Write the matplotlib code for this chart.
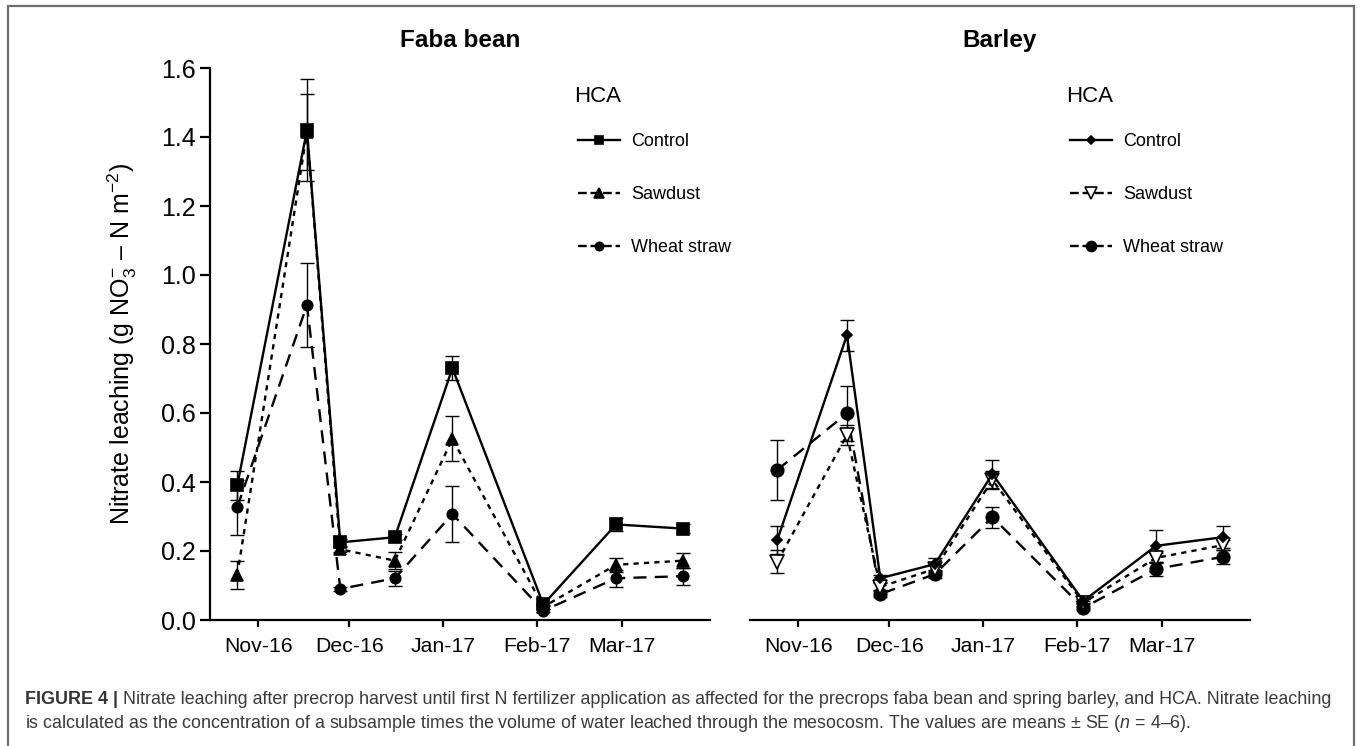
import numpy as np
import matplotlib
matplotlib.use("Agg")
import matplotlib.pyplot as plt
from matplotlib.lines import Line2D
from matplotlib.patches import Rectangle

plt.rcParams['font.family'] = ['Liberation Sans', 'DejaVu Sans']
plt.rcParams['mathtext.fontset'] = 'custom'
plt.rcParams['mathtext.rm'] = 'Liberation Sans'
plt.rcParams['mathtext.it'] = 'Liberation Sans:italic'
plt.rcParams['mathtext.bf'] = 'Liberation Sans:bold'

# ---------------- data ----------------
dates = np.array(['2016-10-25', '2016-11-17', '2016-11-28', '2016-12-16',
                  '2017-01-04', '2017-02-03', '2017-02-27', '2017-03-21'], dtype='datetime64[D]')
tick_dates = np.array(['2016-11-01', '2016-12-01', '2017-01-01', '2017-02-01', '2017-03-01'],
                      dtype='datetime64[D]')
tick_labels = ['Nov-16', 'Dec-16', 'Jan-17', 'Feb-17', 'Mar-17']
xlim_dates = np.array(['2016-10-16', '2017-03-30'], dtype='datetime64[D]')
series_names = ['Control', 'Sawdust', 'Wheat straw']

faba_control = [0.39, 1.42, 0.225, 0.24, 0.73, 0.045, 0.277, 0.265]
faba_control_se = [0.042, 0.148, 0.010, 0.008, 0.035, 0.005, 0.020, 0.014]
faba_sawdust = [0.13, 1.415, 0.205, 0.172, 0.525, 0.038, 0.16, 0.172]
faba_sawdust_se = [0.040, 0.110, 0.008, 0.025, 0.065, 0.005, 0.020, 0.022]
faba_wheat = [0.327, 0.913, 0.09, 0.121, 0.307, 0.027, 0.121, 0.127]
faba_wheat_se = [0.080, 0.123, 0.005, 0.022, 0.080, 0.004, 0.025, 0.025]

barley_control = [0.232, 0.826, 0.121, 0.162, 0.423, 0.055, 0.215, 0.240]
barley_control_se = [0.041, 0.045, 0.010, 0.018, 0.040, 0.005, 0.046, 0.032]
barley_sawdust = [0.169, 0.536, 0.096, 0.148, 0.406, 0.050, 0.180, 0.217]
barley_sawdust_se = [0.033, 0.030, 0.010, 0.010, 0.025, 0.005, 0.015, 0.015]
barley_wheat = [0.435, 0.599, 0.075, 0.133, 0.298, 0.035, 0.148, 0.183]
barley_wheat_se = [0.087, 0.080, 0.008, 0.010, 0.030, 0.005, 0.020, 0.020]

caption_bold = 'FIGURE 4 | '
caption_line1 = ('Nitrate leaching after precrop harvest until first N fertilizer application as '
                 'affected for the precrops faba bean and spring barley, and HCA. Nitrate leaching')
caption_line2 = ('is calculated as the concentration of a subsample times the volume of water leached '
                 'through the mesocosm. The values are means \u00b1 SE ($n$ = 4\u20136).')

# ---------------- figure ----------------
W, H = 1360, 746
fig = plt.figure(figsize=(W / 100, H / 100), dpi=100)
fig.patch.set_facecolor('white')

def fx(px):
    return px / W

def fy(py):
    return 1 - py / H

ax1 = fig.add_axes([fx(210), fy(620), fx(500), (620 - 68) / H])
ax2 = fig.add_axes([fx(750), fy(620), fx(500), (620 - 68) / H])

ls_control = '-'
ls_sawdust = (0, (2.2, 2.2))
ls_wheat = (0, (5.5, 3.5))

def draw(ax, vals, ses, styles):
    for v, s in zip(vals, ses):
        ax.errorbar(dates, v, yerr=s, fmt='none', ecolor='black', elinewidth=1.0,
                    capsize=5, capthick=1.0, zorder=2)
    handles = []
    for v, (ls, mk, ms, mfc, zo), name in zip(vals, styles, series_names):
        h, = ax.plot(dates, v, linestyle=ls, color='black', lw=1.7, marker=mk, ms=ms,
                     mfc=mfc, mec='black', mew=1.2, zorder=zo, label=name)
        handles.append(h)
    return handles

faba_styles = [(ls_control, 's', 8, 'black', 5),
               (ls_sawdust, '^', 9, 'black', 4),
               (ls_wheat, 'o', 7.5, 'black', 3)]
barley_styles = [(ls_control, 'D', 5, 'black', 5),
                 (ls_sawdust, 'v', 10, 'white', 4),
                 (ls_wheat, 'o', 9, 'black', 3)]

h1 = draw(ax1, [faba_control, faba_sawdust, faba_wheat],
          [faba_control_se, faba_sawdust_se, faba_wheat_se], faba_styles)
h2 = draw(ax2, [barley_control, barley_sawdust, barley_wheat],
          [barley_control_se, barley_sawdust_se, barley_wheat_se], barley_styles)

for ax in (ax1, ax2):
    ax.set_xlim(xlim_dates[0], xlim_dates[1])
    ax.set_ylim(0, 1.6)
    ax.set_xticks(tick_dates)
    ax.set_xticklabels(tick_labels, fontsize=15.3)
    ax.spines['top'].set_visible(False)
    ax.spines['right'].set_visible(False)
    ax.spines['bottom'].set_linewidth(1.6)
    ax.spines['left'].set_linewidth(1.6)
    ax.tick_params(axis='x', length=5, width=1.6, pad=7)
    ax.set_facecolor('none')

ax1.set_yticks(np.arange(0, 1.61, 0.2))
ax1.set_yticklabels(['%.1f' % v for v in np.arange(0, 1.61, 0.2)], fontsize=18)
ax1.tick_params(axis='y', length=7, width=1.6, pad=3)
ax1.set_ylabel('Nitrate leaching (g NO$_3^{-}$ \u2013 N m$^{-2}$)', fontsize=18, labelpad=16)

ax2.spines['left'].set_visible(False)
ax2.tick_params(axis='y', left=False, labelleft=False)

ax1.set_title('Faba bean', fontsize=17.5, fontweight='bold', pad=15)
ax2.set_title('Barley', fontsize=17.5, fontweight='bold', pad=15)

# legends
def make_legend(ax, handles, x_handle, x_title):
    leg_handles = [Line2D([], [], linestyle=h.get_linestyle(), color='black', lw=1.7,
                          marker=h.get_marker(), ms=h.get_markersize() * 0.8,
                          mfc=h.get_markerfacecolor(), mec='black', mew=1.2) for h in handles]
    leg = ax.legend(leg_handles, series_names, loc='upper left',
                    bbox_to_anchor=(fx(x_handle), fy(133)), bbox_transform=fig.transFigure,
                    frameon=False, fontsize=13, labelspacing=2.0, handlelength=2.35,
                    handletextpad=0.6, borderpad=0, borderaxespad=0)
    fig.text(fx(x_title), fy(96), 'HCA', fontsize=16, va='center', ha='left')
    return leg

make_legend(ax1, h1, 578, 574)
make_legend(ax2, h2, 1070, 1066)

# border
fig.patches.append(Rectangle((fx(8), -0.05), fx(1346), fy(6) + 0.05, transform=fig.transFigure,
                             fill=False, edgecolor='#6e6e6e', lw=1.6))

# caption
cap_fs = 12.9
t_bold = fig.text(fx(25), fy(700), caption_bold, fontsize=cap_fs, fontweight='bold',
                  color='#333333', va='center', ha='left')
fig.canvas.draw()
bb = t_bold.get_window_extent(renderer=fig.canvas.get_renderer())
fig.text(bb.x1 / W, fy(700), caption_line1, fontsize=cap_fs, color='#3a3a3a', va='center', ha='left')
fig.text(fx(25), fy(723), caption_line2, fontsize=cap_fs, color='#3a3a3a', va='center', ha='left')

fig.savefig('out.png', dpi=100, facecolor='white')
